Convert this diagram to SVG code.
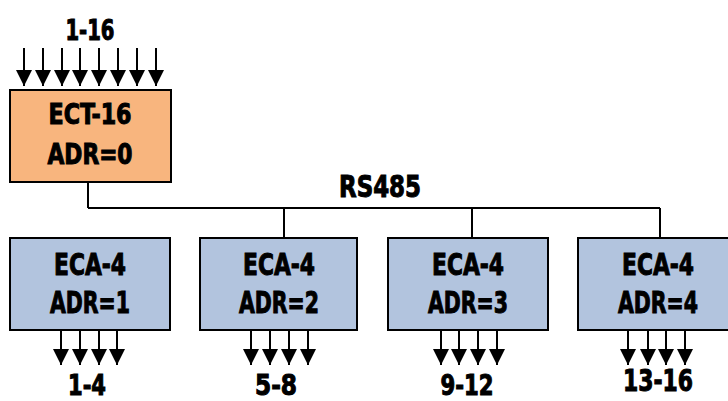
<svg xmlns="http://www.w3.org/2000/svg" width="728" height="401" viewBox="0 0 728 401">
<style>
.t{font-family:"DejaVu Sans Condensed","DejaVu Sans","Liberation Sans",sans-serif;font-weight:bold;fill:#000;stroke:#000;stroke-width:1;text-anchor:middle}
.box{stroke:#000;stroke-width:2}
.orange{fill:#F8B57E}
.blue{fill:#B2C4DE}
.ln{stroke:#000;stroke-width:2;fill:none}
.ar{stroke:#000;stroke-width:2;fill:none;marker-end:url(#ah)}
</style>
<defs>
<marker id="ah" markerUnits="userSpaceOnUse" markerWidth="16" markerHeight="16" refX="16" refY="8" orient="auto" viewBox="0 0 16 16">
<path d="M0,0 L16,8 L0,16 z" fill="#000"/>
</marker>
</defs>
<rect width="728" height="401" fill="#fff"/>
<g id="connectors">
<path class="ln" d="M88,182 V208 M88,208 H660 M284,208 V238 M472,208 V238 M660,208 V238"/>
<text class="t" x="380" y="197" font-size="30" textLength="82" lengthAdjust="spacingAndGlyphs">RS485</text>
</g>
<g id="in-1-16">
<text class="t" x="90" y="40" font-size="28" textLength="49" lengthAdjust="spacingAndGlyphs">1-16</text>
<path class="ar" d="M24,48 V86"/><path class="ar" d="M43,48 V86"/><path class="ar" d="M62,48 V86"/><path class="ar" d="M80,48 V86"/>
<path class="ar" d="M99,48 V86"/><path class="ar" d="M118,48 V86"/><path class="ar" d="M137,48 V86"/><path class="ar" d="M156,48 V86"/>
</g>
<g id="ect16">
<rect class="box orange" x="10" y="90" width="161" height="92"/>
<text class="t" x="90" y="124" font-size="28" textLength="83" lengthAdjust="spacingAndGlyphs">ECT-16</text>
<text class="t" x="90" y="164" font-size="28" textLength="85" lengthAdjust="spacingAndGlyphs">ADR=0</text>
</g>
<g id="eca1">
<rect class="box blue" x="10" y="238" width="160" height="92"/>
<text class="t" x="90" y="275" font-size="31" textLength="72" lengthAdjust="spacingAndGlyphs">ECA-4</text>
<text class="t" x="90" y="313" font-size="31" textLength="80" lengthAdjust="spacingAndGlyphs">ADR=1</text>
<path class="ar" d="M61,331 V365"/><path class="ar" d="M80,331 V365"/><path class="ar" d="M99,331 V365"/><path class="ar" d="M117,331 V365"/>
<text class="t" x="87" y="395" font-size="28" textLength="38" lengthAdjust="spacingAndGlyphs">1-4</text>
</g>
<g id="eca2">
<rect class="box blue" x="200" y="238" width="157" height="92"/>
<text class="t" x="279" y="275" font-size="31" textLength="72" lengthAdjust="spacingAndGlyphs">ECA-4</text>
<text class="t" x="279" y="313" font-size="31" textLength="80" lengthAdjust="spacingAndGlyphs">ADR=2</text>
<path class="ar" d="M251,331 V365"/><path class="ar" d="M270,331 V365"/><path class="ar" d="M289,331 V365"/><path class="ar" d="M308,331 V365"/>
<text class="t" x="276" y="395" font-size="28" textLength="42" lengthAdjust="spacingAndGlyphs">5-8</text>
</g>
<g id="eca3">
<rect class="box blue" x="388" y="238" width="160" height="92"/>
<text class="t" x="468" y="275" font-size="31" textLength="72" lengthAdjust="spacingAndGlyphs">ECA-4</text>
<text class="t" x="468" y="313" font-size="31" textLength="80" lengthAdjust="spacingAndGlyphs">ADR=3</text>
<path class="ar" d="M441,331 V365"/><path class="ar" d="M459,331 V365"/><path class="ar" d="M478,331 V365"/><path class="ar" d="M497,331 V365"/>
<text class="t" x="467" y="395" font-size="28" textLength="53" lengthAdjust="spacingAndGlyphs">9-12</text>
</g>
<g id="eca4">
<rect class="box blue" x="578" y="238" width="160" height="92"/>
<text class="t" x="658" y="275" font-size="31" textLength="72" lengthAdjust="spacingAndGlyphs">ECA-4</text>
<text class="t" x="658" y="313" font-size="31" textLength="80" lengthAdjust="spacingAndGlyphs">ADR=4</text>
<path class="ar" d="M628,331 V365"/><path class="ar" d="M648,331 V365"/><path class="ar" d="M666,331 V365"/><path class="ar" d="M685,331 V365"/>
<text class="t" x="658" y="391" font-size="30" textLength="70" lengthAdjust="spacingAndGlyphs">13-16</text>
</g>
</svg>
